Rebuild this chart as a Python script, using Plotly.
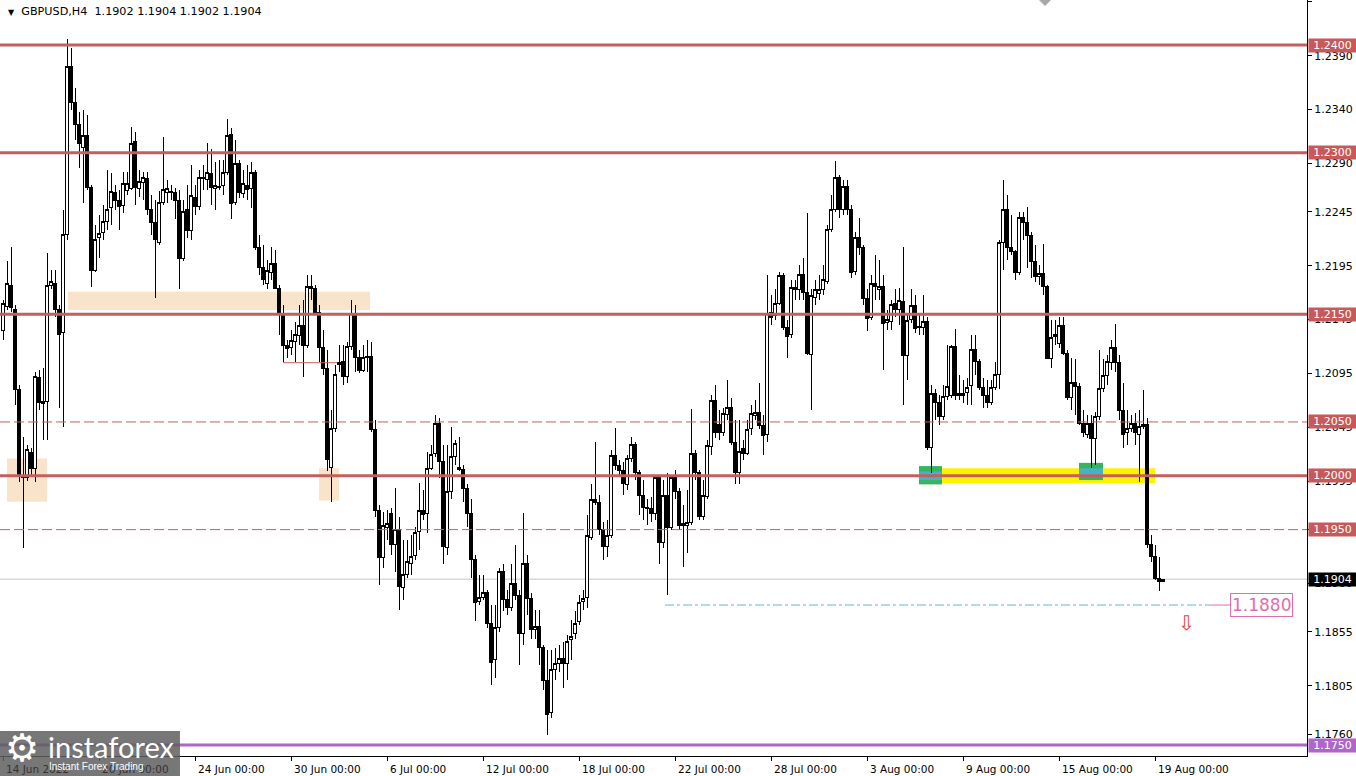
import plotly.graph_objects as go

# ---------------- data (GBPUSD, H4) ----------------
open_ = [
    1.2135, 1.2157, 1.2177, 1.2154, 1.2080, 1.1999, 1.1998, 1.2022, 1.2007, 1.2091,
    1.2067, 1.2069, 1.2177, 1.2179, 1.2154, 1.2133, 1.2224, 1.2380, 1.2347, 1.2326,
    1.2305, 1.2316, 1.2268, 1.2191, 1.2221, 1.2226, 1.2236, 1.2249, 1.2263, 1.2256,
    1.2251, 1.2265, 1.2267, 1.2310, 1.2267, 1.2272, 1.2276, 1.2247, 1.2235, 1.2217,
    1.2254, 1.2263, 1.2263, 1.2263, 1.2256, 1.2202, 1.2247, 1.2228, 1.2258, 1.2250,
    1.2276, 1.2275, 1.2281, 1.2267, 1.2268, 1.2270, 1.2282, 1.2317, 1.2254, 1.2290,
    1.2262, 1.2270, 1.2267, 1.2282, 1.2212, 1.2193, 1.2179, 1.2189, 1.2197, 1.2174,
    1.2151, 1.2121, 1.2119, 1.2125, 1.2130, 1.2140, 1.2121, 1.2176, 1.2174, 1.2152,
    1.2119, 1.2100, 1.2008, 1.2044, 1.2103, 1.2106, 1.2092, 1.2120, 1.2151, 1.2110,
    1.2098, 1.2110, 1.2111, 1.2043, 1.1968, 1.1924, 1.1952, 1.1965, 1.1936, 1.1950,
    1.1896, 1.1908, 1.1919, 1.1926, 1.1948, 1.1968, 1.1965, 1.2007, 1.2021, 1.2049,
    1.2013, 1.1933, 1.1985, 1.2018, 1.2008, 1.2006, 1.1988, 1.1965, 1.1922, 1.1883,
    1.1887, 1.1892, 1.1863, 1.1829, 1.1859, 1.1911, 1.1885, 1.1878, 1.1900, 1.1889,
    1.1854, 1.1919, 1.1886, 1.1857, 1.1860, 1.1841, 1.1810, 1.1780, 1.1820, 1.1826,
    1.1830, 1.1826, 1.1848, 1.1854, 1.1865, 1.1883, 1.1887, 1.1943, 1.1978, 1.1975,
    1.1950, 1.1934, 1.1945, 1.2019, 1.2010, 1.2005, 1.1992, 1.2016, 1.2029, 1.2003,
    1.1982, 1.1971, 1.1970, 1.1965, 1.1998, 1.1938, 1.1982, 1.1952, 1.1998, 1.1985,
    1.1954, 1.1954, 1.1957, 1.2021, 1.2003, 1.1962, 1.1981, 1.2027, 1.2070, 1.2048,
    1.2040, 1.2057, 1.2063, 1.2031, 1.2003, 1.2025, 1.2021, 1.2044, 1.2056, 1.2059,
    1.2047, 1.2038, 1.2152, 1.2149, 1.2160, 1.2186, 1.2138, 1.2131, 1.2173, 1.2173,
    1.2187, 1.2170, 1.2113, 1.2166, 1.2169, 1.2173, 1.2180, 1.2229, 1.2247, 1.2277,
    1.2247, 1.2269, 1.2247, 1.2190, 1.2221, 1.2212, 1.2165, 1.2147, 1.2179, 1.2173,
    1.2176, 1.2142, 1.2143, 1.2160, 1.2154, 1.2162, 1.2112, 1.2145, 1.2158, 1.2139,
    1.2138, 1.2143, 1.2026, 1.2076, 1.2068, 1.2055, 1.2074, 1.2075, 1.2120, 1.2075,
    1.2075, 1.2077, 1.2084, 1.2117, 1.2106, 1.2082, 1.2075, 1.2068, 1.2082, 1.2094,
    1.2217, 1.2247, 1.2212, 1.2208, 1.2189, 1.2240, 1.2235, 1.2223, 1.2199, 1.2185,
    1.2188, 1.2176, 1.2109, 1.2129, 1.2123, 1.2140, 1.2114, 1.2073, 1.2087, 1.2083,
    1.2049, 1.2038, 1.2049, 1.2035, 1.2055, 1.2081, 1.2093, 1.2105, 1.2119, 1.2105,
    1.2061, 1.2040, 1.2044, 1.2049, 1.2038, 1.2046, 1.2048, 1.1936, 1.1925, 1.1905,
    1.1902,
]
high = [
    1.2163, 1.2199, 1.2212, 1.2159, 1.2084, 1.2036, 1.2029, 1.2026, 1.2096, 1.2098,
    1.2100, 1.2207, 1.2191, 1.2191, 1.2159, 1.2247, 1.2406, 1.2397, 1.2360, 1.2338,
    1.2340, 1.2335, 1.2270, 1.2233, 1.2242, 1.2251, 1.2284, 1.2281, 1.2270, 1.2265,
    1.2282, 1.2282, 1.2324, 1.2319, 1.2284, 1.2282, 1.2282, 1.2261, 1.2256, 1.2264,
    1.2315, 1.2275, 1.2270, 1.2267, 1.2265, 1.2256, 1.2270, 1.2289, 1.2270, 1.2284,
    1.2289, 1.2309, 1.2303, 1.2291, 1.2293, 1.2293, 1.2331, 1.2323, 1.2312, 1.2293,
    1.2284, 1.2289, 1.2291, 1.2284, 1.2224, 1.2214, 1.2200, 1.2212, 1.2210, 1.2177,
    1.2159, 1.2126, 1.2135, 1.2143, 1.2159, 1.2163, 1.2186, 1.2186, 1.2177, 1.2159,
    1.2135, 1.2117, 1.2061, 1.2103, 1.2121, 1.2121, 1.2124, 1.2163, 1.2159, 1.2117,
    1.2121, 1.2126, 1.2124, 1.2052, 1.1973, 1.1966, 1.1968, 1.1970, 1.1989, 1.1962,
    1.1940, 1.1940, 1.1945, 1.1952, 1.1993, 1.1987, 1.2022, 1.2029, 1.2056, 1.2054,
    1.2029, 1.2029, 1.2045, 1.2033, 1.2036, 1.2010, 1.1992, 1.1978, 1.1926, 1.1908,
    1.1908, 1.1894, 1.1880, 1.1880, 1.1914, 1.1918, 1.1894, 1.1918, 1.1936, 1.1894,
    1.1965, 1.1926, 1.1891, 1.1875, 1.1875, 1.1843, 1.1838, 1.1838, 1.1840, 1.1843,
    1.1846, 1.1852, 1.1866, 1.1874, 1.1889, 1.1894, 1.1964, 1.1992, 1.2031, 1.1982,
    1.1957, 1.1959, 1.2024, 1.2044, 1.2015, 1.2013, 1.2019, 1.2036, 1.2031, 1.2005,
    1.1996, 1.1978, 1.1980, 1.2001, 1.2001, 1.1996, 1.2003, 1.2001, 1.2005, 1.1989,
    1.1973, 1.1987, 1.2062, 1.2024, 1.2005, 1.1996, 1.2033, 1.2075, 1.2084, 1.2061,
    1.2063, 1.2089, 1.2072, 1.2052, 1.2052, 1.2033, 1.2052, 1.2066, 1.2070, 1.2086,
    1.2056, 1.2186, 1.2168, 1.2173, 1.2189, 1.2188, 1.2145, 1.2182, 1.2182, 1.2196,
    1.2202, 1.2244, 1.2173, 1.2182, 1.2186, 1.2196, 1.2233, 1.2261, 1.2292, 1.2279,
    1.2275, 1.2275, 1.2251, 1.2226, 1.2239, 1.2214, 1.2173, 1.2186, 1.2205, 1.2200,
    1.2186, 1.2154, 1.2163, 1.2173, 1.2174, 1.2212, 1.2149, 1.2173, 1.2168, 1.2149,
    1.2168, 1.2147, 1.2084, 1.2081, 1.2075, 1.2084, 1.2121, 1.2121, 1.2136, 1.2094,
    1.2089, 1.2091, 1.2131, 1.2131, 1.2108, 1.2091, 1.2089, 1.2089, 1.2106, 1.2219,
    1.2275, 1.2261, 1.2242, 1.2210, 1.2245, 1.2245, 1.2250, 1.2226, 1.2214, 1.2196,
    1.2215, 1.2177, 1.2145, 1.2145, 1.2147, 1.2147, 1.2117, 1.2109, 1.2108, 1.2086,
    1.2061, 1.2056, 1.2056, 1.2059, 1.2117, 1.2108, 1.2112, 1.2126, 1.2141, 1.2112,
    1.2086, 1.2061, 1.2056, 1.2058, 1.2061, 1.2080, 1.2054, 1.1945, 1.1936, 1.1925,
    1.1904,
]
low = [
    1.2126, 1.2154, 1.2152, 1.2066, 1.1994, 1.1933, 1.1995, 1.2001, 1.1994, 1.2061,
    1.2033, 1.2033, 1.2173, 1.2147, 1.2063, 1.2045, 1.2219, 1.2340, 1.2312, 1.2286,
    1.2253, 1.2265, 1.2175, 1.2189, 1.2202, 1.2219, 1.2228, 1.2233, 1.2247, 1.2228,
    1.2244, 1.2261, 1.2265, 1.2251, 1.2259, 1.2256, 1.2242, 1.2224, 1.2165, 1.2214,
    1.2251, 1.2253, 1.2256, 1.2238, 1.2173, 1.2199, 1.2221, 1.2219, 1.2242, 1.2247,
    1.2265, 1.2265, 1.2251, 1.2247, 1.2265, 1.2261, 1.2279, 1.2238, 1.2251, 1.2258,
    1.2258, 1.2256, 1.2249, 1.2210, 1.2186, 1.2177, 1.2173, 1.2182, 1.2173, 1.2131,
    1.2106, 1.2109, 1.2112, 1.2106, 1.2121, 1.2092, 1.2119, 1.2163, 1.2149, 1.2106,
    1.2094, 1.2004, 1.1976, 1.2041, 1.2096, 1.2084, 1.2086, 1.2117, 1.2096, 1.2095,
    1.2096, 1.2096, 1.2041, 1.1962, 1.1899, 1.1914, 1.1940, 1.1926, 1.1911, 1.1875,
    1.1885, 1.1905, 1.1908, 1.1922, 1.1931, 1.1959, 1.1947, 1.2005, 1.2017, 1.1998,
    1.1918, 1.1926, 1.1978, 1.2010, 1.2004, 1.1976, 1.1952, 1.1905, 1.1865, 1.1880,
    1.1885, 1.1859, 1.1806, 1.1812, 1.1855, 1.1874, 1.1871, 1.1874, 1.1885, 1.1824,
    1.1843, 1.1871, 1.1848, 1.1848, 1.1824, 1.1801, 1.1759, 1.1775, 1.1810, 1.1818,
    1.1803, 1.1810, 1.1829, 1.1848, 1.1861, 1.1875, 1.1877, 1.1940, 1.1973, 1.1945,
    1.1922, 1.1925, 1.1942, 1.2005, 1.2001, 1.1982, 1.1987, 1.2013, 1.1996, 1.1964,
    1.1959, 1.1954, 1.1957, 1.1959, 1.1918, 1.1933, 1.1889, 1.1950, 1.1978, 1.1950,
    1.1915, 1.1928, 1.1954, 1.1996, 1.1959, 1.1959, 1.1978, 1.2019, 1.2035, 1.2033,
    1.2037, 1.2052, 1.2029, 1.1992, 1.1992, 1.2015, 1.2019, 1.2038, 1.2052, 1.2043,
    1.2019, 1.2031, 1.2140, 1.2145, 1.2159, 1.2135, 1.2109, 1.2128, 1.2163, 1.2163,
    1.2163, 1.2112, 1.2061, 1.2159, 1.2163, 1.2168, 1.2178, 1.2226, 1.2245, 1.2239,
    1.2242, 1.2242, 1.2184, 1.2186, 1.2205, 1.2159, 1.2134, 1.2145, 1.2163, 1.2163,
    1.2098, 1.2135, 1.2135, 1.2147, 1.2140, 1.2066, 1.2089, 1.2142, 1.2133, 1.2131,
    1.2131, 1.2024, 1.2003, 1.2052, 1.2047, 1.2052, 1.2070, 1.2072, 1.2070, 1.2070,
    1.2068, 1.2066, 1.2066, 1.2094, 1.2080, 1.2063, 1.2063, 1.2066, 1.2080, 1.2081,
    1.2191, 1.2200, 1.2205, 1.2182, 1.2186, 1.2219, 1.2193, 1.2184, 1.2180, 1.2177,
    1.2168, 1.2108, 1.2100, 1.2121, 1.2119, 1.2112, 1.2070, 1.2061, 1.2056, 1.2047,
    1.2036, 1.2035, 1.2007, 1.2010, 1.2052, 1.2078, 1.2084, 1.2098, 1.2096, 1.2052,
    1.2026, 1.2029, 1.2041, 1.2029, 1.1994, 1.2043, 1.1933, 1.1920, 1.1903, 1.1893,
    1.1902,
]
close = [
    1.2160, 1.2179, 1.2156, 1.2080, 1.1999, 1.1998, 1.2024, 1.2007, 1.2092, 1.2068,
    1.2069, 1.2177, 1.2180, 1.2154, 1.2131, 1.2224, 1.2380, 1.2347, 1.2326, 1.2309,
    1.2316, 1.2268, 1.2191, 1.2219, 1.2225, 1.2236, 1.2247, 1.2264, 1.2256, 1.2250,
    1.2271, 1.2271, 1.2309, 1.2268, 1.2273, 1.2277, 1.2247, 1.2235, 1.2219, 1.2254,
    1.2266, 1.2267, 1.2264, 1.2256, 1.2202, 1.2245, 1.2228, 1.2260, 1.2250, 1.2277,
    1.2277, 1.2282, 1.2268, 1.2270, 1.2269, 1.2282, 1.2316, 1.2253, 1.2290, 1.2263,
    1.2271, 1.2266, 1.2282, 1.2212, 1.2193, 1.2182, 1.2191, 1.2197, 1.2174, 1.2151,
    1.2121, 1.2118, 1.2126, 1.2131, 1.2140, 1.2121, 1.2176, 1.2174, 1.2152, 1.2119,
    1.2100, 1.2015, 1.2044, 1.2094, 1.2105, 1.2092, 1.2120, 1.2151, 1.2110, 1.2098,
    1.2110, 1.2111, 1.2043, 1.1968, 1.1924, 1.1954, 1.1956, 1.1936, 1.1950, 1.1897,
    1.1908, 1.1920, 1.1925, 1.1947, 1.1968, 1.1964, 1.2007, 1.2020, 1.2049, 1.2013,
    1.1934, 1.1985, 1.2018, 1.2030, 1.2006, 1.1988, 1.1965, 1.1922, 1.1882, 1.1887,
    1.1892, 1.1863, 1.1827, 1.1859, 1.1911, 1.1885, 1.1878, 1.1900, 1.1889, 1.1854,
    1.1919, 1.1886, 1.1857, 1.1860, 1.1841, 1.1810, 1.1778, 1.1820, 1.1826, 1.1830,
    1.1826, 1.1846, 1.1851, 1.1863, 1.1882, 1.1886, 1.1945, 1.1978, 1.1975, 1.1950,
    1.1934, 1.1945, 1.2019, 1.2010, 1.2005, 1.1993, 1.2016, 1.2029, 1.2003, 1.1982,
    1.1971, 1.1970, 1.1965, 1.1998, 1.1938, 1.1982, 1.1952, 1.1998, 1.1985, 1.1954,
    1.1956, 1.1957, 1.2021, 1.2003, 1.1962, 1.1982, 1.2028, 1.2070, 1.2040, 1.2040,
    1.2058, 1.2063, 1.2031, 1.2003, 1.2023, 1.2021, 1.2043, 1.2058, 1.2059, 1.2047,
    1.2037, 1.2151, 1.2147, 1.2160, 1.2186, 1.2138, 1.2129, 1.2175, 1.2175, 1.2187,
    1.2170, 1.2114, 1.2167, 1.2173, 1.2173, 1.2182, 1.2229, 1.2247, 1.2277, 1.2247,
    1.2269, 1.2247, 1.2189, 1.2221, 1.2212, 1.2165, 1.2146, 1.2179, 1.2176, 1.2176,
    1.2141, 1.2145, 1.2159, 1.2154, 1.2163, 1.2112, 1.2144, 1.2158, 1.2137, 1.2138,
    1.2143, 1.2026, 1.2076, 1.2068, 1.2055, 1.2074, 1.2083, 1.2120, 1.2075, 1.2076,
    1.2076, 1.2082, 1.2117, 1.2106, 1.2082, 1.2075, 1.2068, 1.2082, 1.2094, 1.2217,
    1.2247, 1.2212, 1.2208, 1.2189, 1.2240, 1.2235, 1.2223, 1.2199, 1.2185, 1.2188,
    1.2176, 1.2109, 1.2128, 1.2131, 1.2140, 1.2114, 1.2073, 1.2087, 1.2083, 1.2049,
    1.2040, 1.2049, 1.2035, 1.2055, 1.2081, 1.2093, 1.2106, 1.2119, 1.2105, 1.2061,
    1.2038, 1.2044, 1.2049, 1.2040, 1.2046, 1.2048, 1.1936, 1.1925, 1.1905, 1.1902,
    1.1904,
]

# time axis labels (bar index -> label)
date_pos = [0, 24, 48, 72, 96, 120, 144, 168, 192, 216, 240, 264, 288]
date_text = ["14 Jun 2022", "20 Jun 00:00", "24 Jun 00:00", "30 Jun 00:00",
             "6 Jul 00:00", "12 Jul 00:00", "18 Jul 00:00", "22 Jul 00:00",
             "28 Jul 00:00", "3 Aug 00:00", "9 Aug 00:00", "15 Aug 00:00",
             "19 Aug 00:00"]

# price axis labels
price_ticks = [1.2440, 1.2390, 1.2340, 1.2290, 1.2245, 1.2195, 1.2145, 1.2095,
               1.2045, 1.1995, 1.1950, 1.1900, 1.1855, 1.1805, 1.1760]

# levels
solid_levels = [1.2400, 1.2300, 1.2150, 1.2000]
dashed_levels = [1.2050, 1.1950]
support_level = 1.1750
bid_price = 1.1904
target_level = 1.1880
minor_level = 1.2105

# zones (bar index from/to, price from/to)
bisque_zones = [(16.25, 91.75, 1.2154, 1.2171),
                (1.0, 11.0, 1.1976, 1.2016),
                (79.0, 84.0, 1.1977, 1.2007)]
yellow_zone = (229.25, 288.0, 1.1993, 1.2007)
green_boxes = [(229.0, 234.75, 1.1992, 1.2009, 1.1996, 1.2004),
               (269.0, 275.0, 1.1996, 1.2012, 1.1999, 1.2007)]

# ---------------- styles ----------------
RED = "#C0605F"
TAG_RED = "#C65A5A"
PURPLE = "#AE66C8"
PINK = "#DD6FAE"
TEAL = "#5DB9C6"
FONT = "DejaVu Sans"

x_idx = list(range(len(close)))

fig = go.Figure()
fig.add_trace(go.Candlestick(
    x=x_idx, open=open_, high=high, low=low, close=close,
    increasing=dict(line=dict(color="black", width=1), fillcolor="white"),
    decreasing=dict(line=dict(color="black", width=1), fillcolor="black"),
    whiskerwidth=0, showlegend=False, hoverinfo="skip",
))

shapes = []
for x0, x1, y0, y1 in bisque_zones:
    shapes.append(dict(type="rect", xref="x", yref="y", x0=x0, x1=x1, y0=y0, y1=y1,
                       fillcolor="#F9E3CB", line=dict(width=0), layer="below"))
x0, x1, y0, y1 = yellow_zone
shapes.append(dict(type="rect", xref="x", yref="y", x0=x0, x1=x1, y0=y0, y1=y1,
                   fillcolor="#FFF200", line=dict(width=0), layer="below"))
for x0, x1, y0, y1, yi0, yi1 in green_boxes:
    shapes.append(dict(type="rect", xref="x", yref="y", x0=x0, x1=x1, y0=y0, y1=y1,
                       fillcolor="#36B462", line=dict(width=0), layer="below"))
    shapes.append(dict(type="rect", xref="x", yref="y", x0=x0, x1=x1, y0=yi0, y1=yi1,
                       fillcolor="#47B2C6", line=dict(width=0), layer="below"))

# bid line
shapes.append(dict(type="line", xref="paper", yref="y", x0=0, x1=1, y0=bid_price, y1=bid_price,
                   line=dict(color="#C4C4C4", width=1), layer="below"))
for lv in solid_levels:
    shapes.append(dict(type="line", xref="paper", yref="y", x0=0, x1=1, y0=lv, y1=lv,
                       line=dict(color=RED, width=3), layer="above"))
for lv in dashed_levels:
    shapes.append(dict(type="line", xref="paper", yref="y", x0=0, x1=1, y0=lv, y1=lv,
                       line=dict(color=RED, width=1, dash="10px,4px"), layer="above"))
shapes.append(dict(type="line", xref="paper", yref="y", x0=0, x1=1, y0=support_level,
                   y1=support_level, line=dict(color=PURPLE, width=3), layer="above"))
shapes.append(dict(type="line", xref="x", yref="y", x0=70, x1=83.5, y0=minor_level,
                   y1=minor_level, line=dict(color=RED, width=1), layer="above"))
# target line
shapes.append(dict(type="line", xref="x", yref="y", x0=165.5, x1=301.75, y0=target_level,
                   y1=target_level, line=dict(color=TEAL, width=1, dash="dashdot"), layer="above"))
shapes.append(dict(type="line", xref="x", yref="y", x0=301.75, x1=306.75, y0=target_level,
                   y1=target_level, line=dict(color=PINK, width=1), layer="above"))
# chart-shift marker
shapes.append(dict(type="path", xref="x", yref="paper",
                   path="M 259,1 L 262,1 L 260.5,0.992 Z",
                   fillcolor="#A8A8A8", line=dict(width=0), layer="above"))
# logo background
shapes.append(dict(type="rect", xref="paper", yref="paper", x0=0, x1=0.1377,
                   y0=-0.0265, y1=0.0331, fillcolor="rgba(95,95,95,0.85)",
                   line=dict(width=0), layer="above"))

annotations = []
# bottom time labels
for pos, txt in zip(date_pos, date_text):
    annotations.append(dict(xref="x", yref="paper", x=pos, y=0, xanchor="left", yanchor="top",
                            xshift=1, yshift=-5, text=txt, showarrow=False,
                            font=dict(family=FONT, size=10.5,
                                      color="#333333" if pos < 48 else "black")))

# price tags on the right axis
def tag(price, bg, fg="white"):
    annotations.append(dict(xref="paper", yref="y", x=1, y=price, xanchor="left",
                            yanchor="middle", xshift=1, text=f"{price:.4f}", showarrow=False,
                            bgcolor=bg, width=47, height=13, borderpad=0,
                            font=dict(family=FONT, size=11, color=fg)))

for lv in solid_levels + dashed_levels:
    tag(lv, TAG_RED)
tag(bid_price, "black")
tag(support_level, PURPLE)

# target label
annotations.append(dict(xref="x", yref="y", x=306.75, y=target_level, xanchor="left",
                        yanchor="middle", text=f"{target_level:.4f}", showarrow=False,
                        bgcolor="white", bordercolor=PINK, borderwidth=1, borderpad=1,
                        font=dict(family=FONT, size=17, color=PINK)))
# down arrow
annotations.append(dict(xref="x", yref="y", x=295.75, y=1.1863, text="\u21e9",
                        showarrow=False, font=dict(family=FONT, size=20, color="#E3423B")))
# title
annotations.append(dict(xref="paper", yref="paper", x=0, y=1, xanchor="left", yanchor="top",
                        xshift=6, yshift=-3, showarrow=False,
                        text="<span style='font-size:8px'>\u25bc</span>\u00a0 GBPUSD,H4\u00a0\u00a0"
                             "1.1902 1.1904 1.1902 1.1904",
                        font=dict(family=FONT, size=11.2, color="black")))
# logo texts
annotations.append(dict(xref="paper", yref="paper", x=0.002, y=0.011, xanchor="left",
                        yanchor="middle", text="\u2699", showarrow=False,
                        font=dict(family=FONT, size=38, color="white")))
annotations.append(dict(xref="paper", yref="paper", x=0.035, y=0.013, xanchor="left",
                        yanchor="middle", text="instaforex", showarrow=False,
                        font=dict(family="Lato", size=29, color="white")))
annotations.append(dict(xref="paper", yref="paper", x=0.036, y=-0.0145, xanchor="left",
                        yanchor="middle", text="Instant Forex Trading", showarrow=False,
                        font=dict(family="Liberation Sans", size=10, color="white")))

fig.update_layout(
    width=1356, height=776,
    margin=dict(l=0, r=49, t=0, b=20),
    paper_bgcolor="white", plot_bgcolor="white",
    showlegend=False, boxgap=0.2,
    shapes=shapes, annotations=annotations,
    xaxis=dict(range=[-0.75, 326.0], rangeslider=dict(visible=False), showgrid=False,
               zeroline=False, tickvals=date_pos, ticks="outside", ticklen=4,
               tickcolor="black", showticklabels=False, showline=True, mirror=True,
               linecolor="black", linewidth=1, fixedrange=True),
    yaxis=dict(range=[1.17398, 1.24418], side="right", showgrid=False, zeroline=False,
               tickvals=price_ticks, ticktext=[f"{v:.4f}" for v in price_ticks],
               ticks="outside", ticklen=4, tickcolor="black",
               tickfont=dict(family=FONT, size=11, color="black"),
               showline=True, mirror=True, linecolor="black", linewidth=1, fixedrange=True),
)

post_js = (
    "document.body.style.margin='0';"
    "document.body.style.overflow='hidden';"
    "var st=document.createElement('style');"
    "st.textContent='.boxlayer path{shape-rendering:crispEdges;}';"
    "document.head.appendChild(st);"
)
fig.write_html("out.html", post_script=post_js, config={"displayModeBar": False})
